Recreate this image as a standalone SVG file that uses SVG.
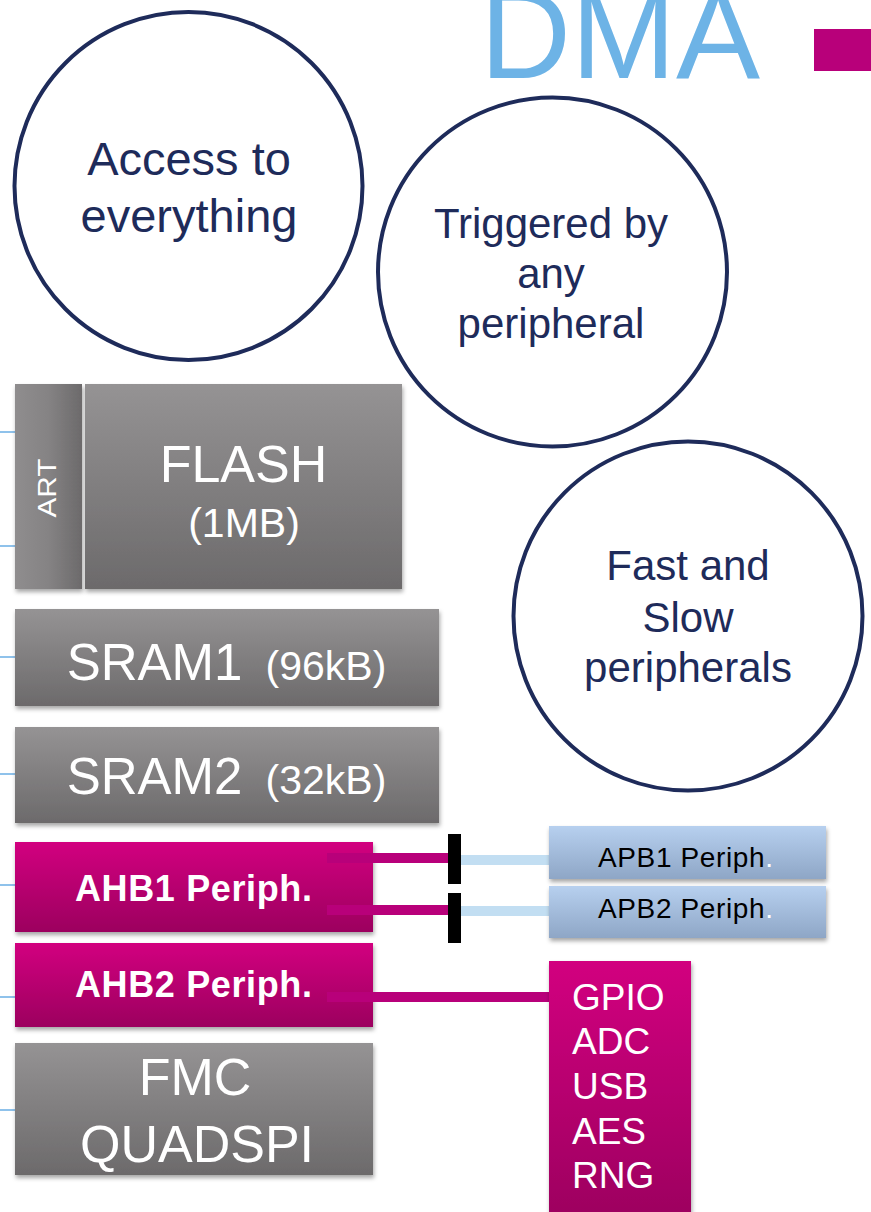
<svg xmlns="http://www.w3.org/2000/svg" width="871" height="1212" viewBox="0 0 871 1212">
<defs>
<linearGradient id="gGray" x1="0" y1="0" x2="0" y2="1"><stop offset="0" stop-color="#959394"/><stop offset="1" stop-color="#6c6a6b"/></linearGradient>
<linearGradient id="gArt" x1="0" y1="0" x2="1" y2="0"><stop offset="0" stop-color="#8f8d8e"/><stop offset="0.5" stop-color="#858384"/><stop offset="1" stop-color="#6c6a6b"/></linearGradient>
<linearGradient id="gMag" x1="0" y1="0" x2="0" y2="1"><stop offset="0" stop-color="#d2007f"/><stop offset="1" stop-color="#9c005f"/></linearGradient>
<linearGradient id="gBlue" x1="0" y1="0" x2="0" y2="1"><stop offset="0" stop-color="#b7d0ef"/><stop offset="1" stop-color="#8ea6c6"/></linearGradient>
<filter id="sh" x="-10%" y="-10%" width="130%" height="130%"><feDropShadow dx="1" dy="3" stdDeviation="2" flood-color="#000" flood-opacity="0.35"/></filter>
</defs>
<style>
.circ{fill:#fff;stroke:#1e2b5a;stroke-width:4}
.ct{font-family:"Liberation Sans",Arial,sans-serif;fill:#1e2b5a;text-anchor:middle}
.wt{font-family:"Liberation Sans",Arial,sans-serif;fill:#fff;text-anchor:middle}
.bus{stroke:#6aaee4;stroke-width:1.5}
.mag{stroke:#b8007a;stroke-width:10}
.lb{stroke:#c2def2;stroke-width:10}
</style>
<rect width="871" height="1212" fill="#fff"/>
<text x="480" y="78" font-family="'Liberation Sans',Arial,sans-serif" font-size="126" fill="#6db3e6">DMA</text>
<rect x="814" y="29" width="57" height="42" fill="#b8007a"/>

<g id="bus-lines">
<line class="bus" x1="0" y1="432" x2="15" y2="432"/>
<line class="bus" x1="0" y1="546" x2="15" y2="546"/>
<line class="bus" x1="0" y1="657" x2="15" y2="657"/>
<line class="bus" x1="0" y1="774" x2="15" y2="774"/>
<line class="bus" x1="0" y1="885" x2="15" y2="885"/>
<line class="bus" x1="0" y1="997" x2="15" y2="997"/>
<line class="bus" x1="0" y1="1110" x2="15" y2="1110"/>
</g>

<g id="circle-access">
<circle class="circ" cx="188.5" cy="186" r="174"/>
<text class="ct" x="189" y="175" font-size="47">Access to</text>
<text class="ct" x="189" y="232" font-size="47">everything</text>
</g>
<g id="circle-triggered">
<circle class="circ" cx="552.5" cy="272" r="174.5"/>
<text class="ct" x="551" y="238" font-size="42">Triggered by</text>
<text class="ct" x="551" y="288" font-size="42">any</text>
<text class="ct" x="551" y="338" font-size="42">peripheral</text>
</g>
<g id="circle-fast">
<circle class="circ" cx="688" cy="616" r="174.5"/>
<text class="ct" x="688" y="580" font-size="42">Fast and</text>
<text class="ct" x="688" y="632" font-size="42">Slow</text>
<text class="ct" x="688" y="682" font-size="42">peripherals</text>
</g>

<g id="node-art">
<rect x="15" y="384" width="67" height="205" fill="url(#gArt)" filter="url(#sh)"/>
<text class="wt" transform="translate(56,488) rotate(-90)" font-size="25" textLength="59" lengthAdjust="spacingAndGlyphs">ART</text>
</g>
<g id="node-flash">
<rect x="85" y="384" width="317" height="205" fill="url(#gGray)" filter="url(#sh)"/>
<text class="wt" x="243.5" y="482" font-size="52">FLASH</text>
<text class="wt" x="244" y="537" font-size="41">(1MB)</text>
</g>
<g id="node-sram1">
<rect x="15" y="609" width="424" height="97" fill="url(#gGray)" filter="url(#sh)"/>
<text class="wt" x="154.5" y="680" font-size="51">SRAM1</text>
<text class="wt" x="326" y="680" font-size="41">(96kB)</text>
</g>
<g id="node-sram2">
<rect x="15" y="727" width="424" height="96" fill="url(#gGray)" filter="url(#sh)"/>
<text class="wt" x="154.5" y="794" font-size="51">SRAM2</text>
<text class="wt" x="326" y="794" font-size="41">(32kB)</text>
</g>
<g id="node-ahb1">
<rect x="15" y="842" width="358" height="90" fill="url(#gMag)" filter="url(#sh)"/>
<text class="wt" x="193.5" y="901" font-size="36" font-weight="bold" textLength="237">AHB1 Periph.</text>
</g>
<g id="node-ahb2">
<rect x="15" y="943" width="358" height="84" fill="url(#gMag)" filter="url(#sh)"/>
<text class="wt" x="193.5" y="997" font-size="36" font-weight="bold" textLength="237">AHB2 Periph.</text>
</g>
<g id="node-fmc">
<rect x="15" y="1043" width="358" height="132" fill="url(#gGray)" filter="url(#sh)"/>
<text class="wt" x="195" y="1095" font-size="52">FMC</text>
<text class="wt" x="197" y="1162" font-size="52">QUADSPI</text>
</g>

<g id="connectors">
<line class="mag" x1="327" y1="858" x2="448" y2="858"/>
<line class="mag" x1="327" y1="910" x2="448" y2="910"/>
<line class="lb" x1="461" y1="860" x2="549" y2="860"/>
<line class="lb" x1="461" y1="911" x2="549" y2="911"/>
<rect x="448" y="834" width="13" height="50" fill="#000"/>
<rect x="448" y="893" width="13" height="50" fill="#000"/>
<line class="mag" x1="327" y1="997" x2="550" y2="997"/>
</g>

<g id="node-apb1">
<rect x="549" y="826" width="277" height="53" fill="url(#gBlue)" filter="url(#sh)"/>
<text x="598" y="867" font-family="'Liberation Sans',Arial,sans-serif" font-size="28" fill="#000" textLength="175">APB1 Periph<tspan fill="#fff">.</tspan></text>
</g>
<g id="node-apb2">
<rect x="549" y="886" width="277" height="52" fill="url(#gBlue)" filter="url(#sh)"/>
<text x="598" y="918" font-family="'Liberation Sans',Arial,sans-serif" font-size="28" fill="#000" textLength="175">APB2 Periph<tspan fill="#fff">.</tspan></text>
</g>
<g id="node-ahb2-periph">
<rect x="549" y="961" width="142" height="260" fill="url(#gMag)" filter="url(#sh)"/>
<g font-family="'Liberation Sans',Arial,sans-serif" font-size="37" fill="#fff">
<text x="572" y="1010">GPIO</text>
<text x="572" y="1054">ADC</text>
<text x="572" y="1099">USB</text>
<text x="572" y="1144">AES</text>
<text x="572" y="1188">RNG</text>
</g>
</g>
</svg>
